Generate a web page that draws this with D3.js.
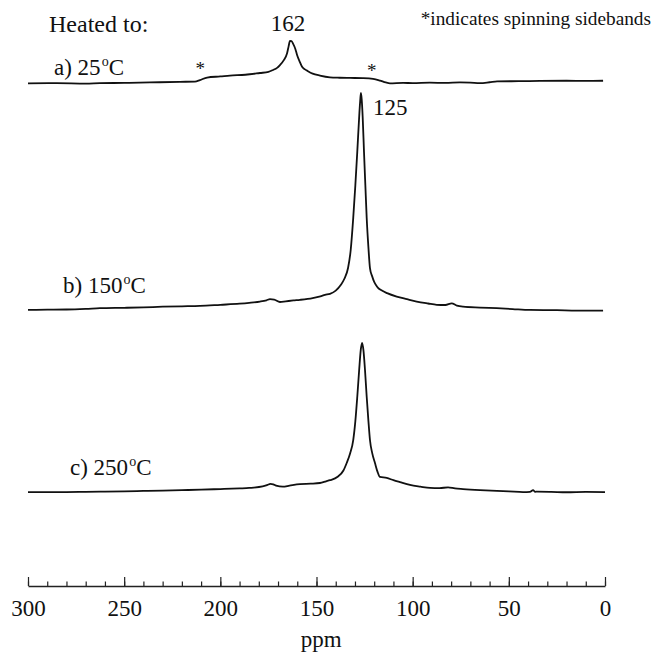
<!DOCTYPE html>
<html>
<head>
<meta charset="utf-8">
<script src="https://cdn.jsdelivr.net/npm/d3@7"></script>
<style>
  html, body { margin: 0; padding: 0; background: #fff; }
  svg { display: block; }
  svg text { font-family: "Liberation Serif", "DejaVu Serif", serif !important; fill: #111; }
</style>
</head>
<body>
<svg id="chart" width="655" height="655"></svg>
<script>
// 13C MAS NMR spectra, stacked; each row is [chemical shift (ppm), intensity (arb.)]
const specA = [
  [300,0],[285,0.1],[270,-0.1],[262.6,0.1],[250,0.2],[236.6,0.4],[221,0.7],[213.2,0.8],
  [210.6,1.5],[206.9,2.7],[200,3.2],[195,3.6],[187,4.0],[179.4,4.8],[175,5.3],[172.6,6.2],
  [170.5,7.2],[169,8.5],[167,10.8],[165.3,14],[164.5,17.2],[163.8,19.7],[163,19.6],[162.2,18.5],
  [161,16],[160.1,13.2],[158.7,10],[157.5,7.7],[156,6.5],[154.9,5.9],[152,4.5],[148.2,3.6],
  [143,2.8],[138,2.6],[132.6,2.5],[126,2.4],[120.6,2.1],[117,1.3],[114,0.4],[111.8,0],
  [105,0.2],[100,0.1],[91,0.3],[83,0.2],[75.4,0.4],[70,0.3],[65,0.1],[60,0.5],[56.1,0.9],
  [45,1.0],[33.8,1.1],[20,1.2],[10,1.1],[1,1.2]
];
const specB = [
  [300,0],[290,0.1],[280,0.2],[270,0.5],[262.6,0.8],[250,1.0],[240,1.2],[230,1.5],[220,1.7],
  [210.6,1.9],[200,2.4],[190,2.9],[185,3.3],[179.4,3.9],[176,4.5],[174.2,5.0],[172,4.8],
  [169,3.7],[166,4.0],[162,4.4],[158.6,4.7],[152,5.5],[148,6.3],[145.6,7.0],[143,7.5],
  [140,9.0],[137.4,11.6],[135.5,14.5],[133.6,19.5],[132.2,28],[130.9,42.8],[129.8,58],
  [128.8,73.5],[127.8,90],[127.3,97],[126.9,100.9],[126.5,98],[126,90],[125.3,73.5],
  [124.6,58],[123.9,42.8],[123,29],[122.2,19.5],[121,15.5],[120,13],[119,11.5],[118,10.3],
  [116,9.0],[113.3,7.8],[108.3,6.2],[103,5.0],[97.9,3.9],[92,3.0],[87.5,2.4],[83,2.3],
  [79.7,3.1],[77,2.0],[73.8,1.5],[65,1.1],[56.3,0.8],[48,0.4],[39,0],[25,-0.1],[14.7,-0.3],[1,-0.3]
];
const specC = [
  [300,0],[290,0],[280,0],[270,0.1],[260,0.2],[250,0.3],[240,0.5],[230,0.7],[220,0.9],
  [210,1.1],[200,1.4],[190,1.7],[185,1.9],[178,2.6],[175.5,3.3],[174,3.8],[172.5,3.6],
  [171,3.0],[167.5,2.5],[164,3.0],[158.6,3.7],[153,3.9],[148.2,4.2],[145,5.0],[143,5.5],
  [139,7.1],[136,10],[134.3,13.5],[132.5,18],[130.9,24.2],[129.8,33],[128.8,44.3],[127.8,57],
  [127,66],[126.3,69.4],[125.6,66],[124.8,57],[123.9,44.3],[123,33],[122.2,24.2],[121,18],
  [119.6,13.5],[118.3,9.5],[117,7.0],[113.5,6.6],[110,5.5],[106.6,4.6],[101.4,3.3],[96,2.5],
  [91,1.9],[86,1.8],[81.6,2.2],[78,1.7],[73.8,1.4],[65,0.9],[56.2,0.5],[50,0.3],[42.6,0],
  [39,0.1],[37.4,0.9],[36.3,0.1],[35.3,0.2],[28,0.1],[20,-0.1],[10,0.1],[0,0]
];
const spectra = [specA, specB, specC];
const offsets = [233.8, 128.4, 43.7];            // vertical stacking offset of each trace
const traceLabels = ["a) 25", "b) 150", "c) 250"];
const sidebands = [210.5, 121.3];                 // spinning sidebands in trace a
const peakLabels = [{ppm: 163.8, text: "162", trace: 0}, {ppm: 126.9, text: "125", trace: 1}];
const majorTicks = [300, 250, 200, 150, 100, 50, 0];
const minorTicks = d3.range(0, 301, 10);

const SERIF = "'Liberation Serif', 'DejaVu Serif', serif";
const svg = d3.select("#chart");
const x = d3.scaleLinear().domain([300, 0]).range([28, 605]);
const y = d3.scaleLinear().domain([0, 260]).range([586, 27]);

const line = off => d3.line()
  .x(d => x(d[0]))
  .y(d => y(d[1] + off))
  .curve(d3.curveMonotoneX);

svg.append("g").selectAll("path")
  .data(spectra)
  .join("path")
  .attr("d", (d, i) => line(offsets[i])(d))
  .attr("fill", "none")
  .attr("stroke", "#111")
  .attr("stroke-width", 1.8)
  .attr("stroke-linejoin", "round");

// axis: minor ticks every 10 ppm, major every 50 ppm, ticks pointing up
const axisY = y(0);
svg.append("g")
  .attr("transform", `translate(0,${axisY})`)
  .call(d3.axisBottom(x).tickValues(minorTicks).tickSizeInner(-4.5).tickSizeOuter(0).tickFormat(""))
  .call(g => g.select(".domain").attr("stroke", "#222").attr("stroke-width", 1.4))
  .call(g => g.selectAll(".tick line").attr("stroke", "#222").attr("stroke-width", 1.2));
svg.append("g")
  .attr("transform", `translate(0,${axisY})`)
  .call(d3.axisBottom(x).tickValues(majorTicks).tickSizeInner(-9).tickSizeOuter(0).tickPadding(14).tickFormat(d3.format("d")))
  .attr("font-family", SERIF)
  .call(g => g.select(".domain").remove())
  .call(g => g.selectAll(".tick line").attr("stroke", "#222").attr("stroke-width", 1.2))
  .call(g => g.selectAll(".tick text")
    .style("font-family", SERIF)
    .attr("font-size", 23)
    .attr("fill", "#111"));

const txt = (sel) => sel.style("font-family", SERIF);

svg.append("text")
  .attr("x", x(147.5)).attr("y", 647)
  .attr("text-anchor", "middle")
  .attr("font-size", 23)
  .call(txt)
  .text("ppm");

// trace labels with superscript degree sign
const labelPos = [[54, 75], [63, 293], [70, 475]];
traceLabels.forEach((t, i) => {
  const tx = svg.append("text")
    .attr("x", labelPos[i][0]).attr("y", labelPos[i][1])
    .attr("font-size", 23)
    .call(txt);
  tx.append("tspan").text(t);
  tx.append("tspan").attr("font-size", 14).attr("dy", -9).attr("dx", 1).text("o");
  tx.append("tspan").attr("dy", 9).text("C");
});

svg.append("text").attr("x", 49).attr("y", 32).attr("font-size", 24).call(txt).text("Heated to:");
svg.append("text").attr("x", 651).attr("y", 25).attr("text-anchor", "end")
  .attr("font-size", 19.3).call(txt).text("*indicates spinning sidebands");

// peak position labels
svg.append("text")
  .attr("x", x(peakLabels[0].ppm) - 2).attr("y", 31)
  .attr("text-anchor", "middle").attr("font-size", 23)
  .call(txt)
  .text(peakLabels[0].text);
svg.append("text")
  .attr("x", x(peakLabels[1].ppm) + 12).attr("y", 115)
  .attr("font-size", 23)
  .call(txt)
  .text(peakLabels[1].text);

// sideband markers above trace a
svg.append("g").selectAll("text")
  .data(sidebands)
  .join("text")
  .attr("x", d => x(d))
  .attr("y", (d, i) => i === 0 ? 75 : 77)
  .attr("text-anchor", "middle")
  .attr("font-size", 19)
  .call(txt)
  .text("*");
</script>
</body>
</html>
